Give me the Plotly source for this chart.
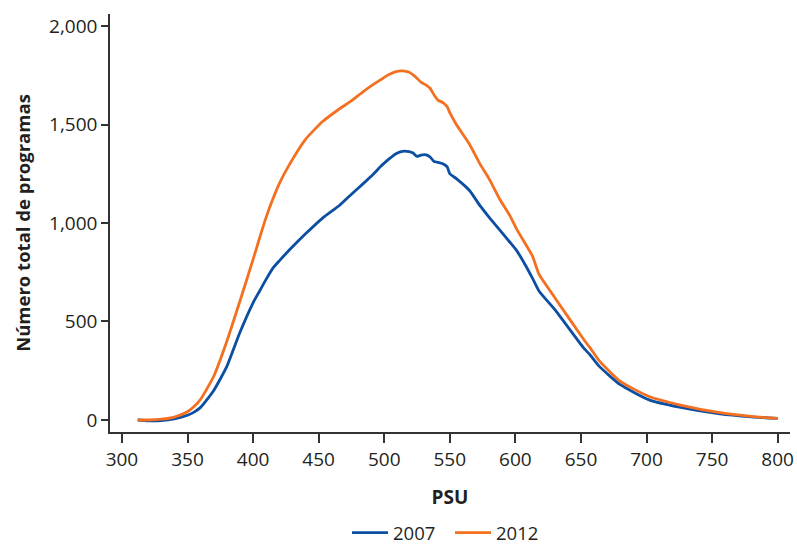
import plotly.graph_objects as go

psu = [312, 320, 330, 340, 350, 355, 360, 370, 380, 390, 400, 405, 410, 415, 420, 428,
       440, 453, 466, 474, 484, 492, 497, 503, 509, 514, 519, 522, 525, 528, 532, 535,
       538, 541, 545, 548, 550, 555, 565, 573, 580, 588, 596, 601, 608, 613, 618, 631,
       652, 657, 664, 680, 702, 725, 756, 780, 800]

y2007 = [0, -4, -3, 6, 24, 40, 64, 150, 272, 445, 595, 655, 715, 770, 808, 865,
         945, 1025, 1090, 1140, 1200, 1250, 1285, 1322, 1352, 1364, 1362, 1355, 1338, 1345, 1346, 1335,
         1312, 1308, 1300, 1285, 1250, 1225, 1165, 1088, 1029, 965, 901, 860, 782, 720, 655, 553,
         366, 330, 272, 179, 102, 65, 31, 16, 8]

y2012 = [0, 0, 4, 15, 42, 68, 105, 222, 400, 604, 815, 925, 1030, 1120, 1200, 1300,
         1425, 1515, 1580, 1616, 1667, 1705, 1726, 1752, 1769, 1772, 1765, 1752, 1735, 1715, 1700, 1684,
         1650, 1624, 1610, 1590, 1560, 1500, 1400, 1300, 1224, 1122, 1035, 969, 890, 833, 740, 612,
         410, 366, 300, 196, 119, 77, 37, 18, 8]

series = [("2007", y2007, "#0b4ea2"), ("2012", y2012, "#f37021")]

fig = go.Figure()
for name, vals, col in series:
    fig.add_trace(go.Scatter(
        x=psu, y=vals, name=name, mode="lines",
        line=dict(color=col, width=2.8, shape="spline", smoothing=0.5),
    ))

font_fam = "Open Sans"
txt = "#231f20"
fig.update_layout(
    width=797, height=547,
    margin=dict(l=110, r=7, t=14, b=115, autoexpand=False),
    paper_bgcolor="white", plot_bgcolor="white",
    font=dict(family=font_fam, size=19, color=txt),
    showlegend=True,
    legend=dict(orientation="h", x=0.5, xanchor="center", xref="paper",
                y=14 / 547, yanchor="middle", yref="container",
                itemwidth=36, entrywidth=52,
                font=dict(size=18.5, color=txt), traceorder="normal"),
    xaxis=dict(
        range=[290.9, 809.4], tickvals=[300, 350, 400, 450, 500, 550, 600, 650, 700, 750, 800],
        showline=True, linecolor="#333333", linewidth=1.5,
        ticks="outside", ticklen=9, tickcolor="#333333", tickwidth=1.5,
        showgrid=False, zeroline=False, automargin=False,
        tickfont=dict(size=19),
        title=dict(text="<b>PSU</b>", standoff=20, font=dict(size=19)),
    ),
    yaxis=dict(
        range=[-61, 2061], tickvals=[0, 500, 1000, 1500, 2000], tickformat=",",
        showline=True, linecolor="#333333", linewidth=1.5,
        ticks="outside", ticklen=7, tickcolor="#333333", tickwidth=1.5,
        showgrid=False, zeroline=False, automargin=False,
        tickfont=dict(size=19),
        title=dict(text="<b>Número total de programas</b>", standoff=14, font=dict(size=18.5)),
    ),
)

fig.write_html("out.html", config={"displayModeBar": False},
               post_script="document.body.style.margin='0';document.body.style.padding='0';document.body.style.overflow='hidden';")
